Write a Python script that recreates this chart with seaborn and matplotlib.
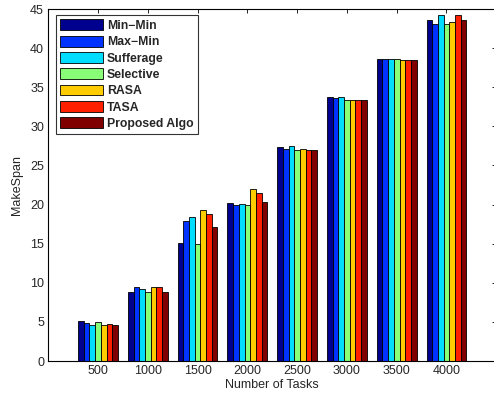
import matplotlib
matplotlib.use("Agg")
import matplotlib.pyplot as plt
import seaborn as sns
import pandas as pd

tasks = ["500", "1000", "1500", "2000", "2500", "3000", "3500", "4000"]
algorithms = ["Min\u2212Min", "Max\u2212Min", "Sufferage", "Selective", "RASA", "TASA", "Proposed Algo"]

min_min   = [5.08, 8.80, 15.05, 20.25, 27.33, 33.80, 38.67, 43.53]
max_min   = [4.90, 9.50, 17.95, 19.95, 27.07, 33.60, 38.58, 43.14]
sufferage = [4.60, 9.20, 18.40, 20.10, 27.54, 33.76, 38.58, 44.17]
selective = [5.00, 8.80, 14.96, 19.95, 27.03, 33.40, 38.58, 43.14]
rasa      = [4.60, 9.50, 19.36, 22.05, 27.16, 33.34, 38.54, 43.40]
tasa      = [4.70, 9.40, 18.85, 21.45, 27.03, 33.34, 38.45, 44.17]
proposed  = [4.65, 8.80, 17.18, 20.35, 27.03, 33.40, 38.45, 43.53]

colors = ["#00008f", "#0033ff", "#00ddff", "#88ff77", "#ffcc00", "#ff2000", "#800000"]

series = [min_min, max_min, sufferage, selective, rasa, tasa, proposed]
rows = []
for name, vals in zip(algorithms, series):
    for t, v in zip(tasks, vals):
        rows.append({"Tasks": t, "Algorithm": name, "MakeSpan": v})
df = pd.DataFrame(rows)

sns.set_style("white")
plt.rcParams["font.family"] = ["Liberation Sans", "DejaVu Sans"]

fig = plt.figure(figsize=(4.94, 4.0), dpi=100)
ax = fig.add_axes([0.0976, 0.0975, 0.907, 0.88])

sns.barplot(data=df, x="Tasks", y="MakeSpan", hue="Algorithm",
            order=tasks, hue_order=algorithms, palette=colors,
            width=0.8, saturation=1, edgecolor="black", linewidth=0.6,
            errorbar=None, ax=ax)

ax.set_xlim(-1, 8)
ax.set_ylim(0, 45)
ax.set_yticks(range(0, 46, 5))
ax.set_xlabel("Number of Tasks", fontsize=9, labelpad=1)
ax.set_ylabel("MakeSpan", fontsize=9, labelpad=5)
ax.tick_params(axis="both", direction="in", length=3, width=0.6,
               labelsize=9, top=True, right=True, color="black", pad=3)
for s in ax.spines.values():
    s.set_visible(True)
    s.set_color("black")
    s.set_linewidth(0.8)

leg = ax.legend(loc="upper left", bbox_to_anchor=(0.0174, 0.983),
                frameon=True, fancybox=False, edgecolor="black",
                prop={"weight": "bold", "size": 8.8},
                handlelength=3.5, handleheight=1.0, handletextpad=0.3,
                labelspacing=0.3, borderpad=0.35, borderaxespad=0)
leg.get_frame().set_linewidth(0.8)

fig.savefig("out.png", dpi=100)
